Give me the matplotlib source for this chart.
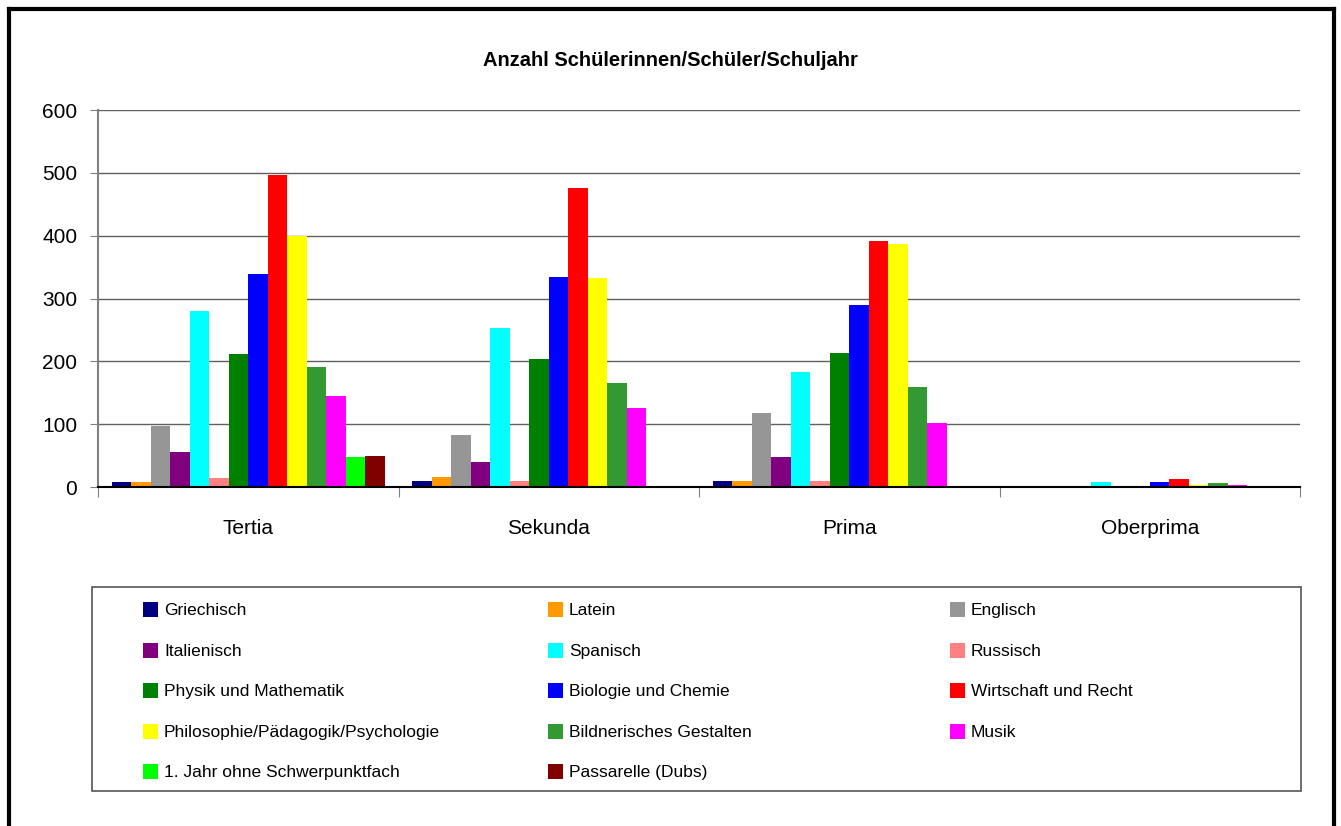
import numpy as np
import matplotlib.pyplot as plt
from matplotlib.patches import Rectangle
from matplotlib.lines import Line2D

plt.rcParams['font.family'] = ['Liberation Sans', 'DejaVu Sans']

categories = ['Tertia', 'Sekunda', 'Prima', 'Oberprima']

subjects = ['Griechisch', 'Latein', 'Englisch', 'Italienisch', 'Spanisch', 'Russisch',
            'Physik und Mathematik', 'Biologie und Chemie', 'Wirtschaft und Recht',
            'Philosophie/Pädagogik/Psychologie', 'Bildnerisches Gestalten', 'Musik',
            '1. Jahr ohne Schwerpunktfach', 'Passarelle (Dubs)']

# values per subject: Tertia, Sekunda, Prima, Oberprima
griechisch = [8, 10, 10, 0]
latein = [8, 16, 10, 0]
englisch = [97, 83, 118, 0]
italienisch = [56, 40, 48, 0]
spanisch = [280, 253, 183, 8]
russisch = [14, 10, 10, 0]
physik = [212, 204, 213, 0]
biologie = [339, 334, 290, 8]
wirtschaft = [497, 476, 392, 13]
philosophie = [400, 333, 387, 3]
bildnerisch = [191, 166, 159, 6]
musik = [145, 126, 102, 3]
erstes_jahr = [48, 0, 0, 0]
passarelle = [49, 0, 0, 0]

series = [griechisch, latein, englisch, italienisch, spanisch, russisch, physik,
          biologie, wirtschaft, philosophie, bildnerisch, musik, erstes_jahr, passarelle]

colors = ['#000080', '#FF9900', '#969696', '#800080', '#00FFFF', '#FF8080', '#008000',
          '#0000FF', '#FF0000', '#FFFF00', '#339933', '#FF00FF', '#00FF00', '#800000']

W, H = 1341, 826
fig = plt.figure(figsize=(W / 100, H / 100), dpi=100)

def fx(px):
    return px / W

def fy(py):
    return 1 - py / H

ax = fig.add_axes([fx(98), fy(487), fx(1300) - fx(98), fy(110) - fy(487)])

n = len(series)
w = 0.907 / n
x = np.arange(len(categories)) + 0.5
for j, vals in enumerate(series):
    ax.bar(x + (j - (n - 1) / 2) * w, vals, width=w, color=colors[j], label=subjects[j], zorder=3)

ax.set_xlim(0, 4)
ax.set_ylim(0, 600)
ax.set_yticks(range(0, 601, 100))
ax.yaxis.grid(True, color='#606060', lw=1, zorder=0)
ax.tick_params(axis='y', labelsize=15, length=6, color='#808080', pad=9)

ax.set_xticks([0, 1, 2, 3, 4])
ax.set_xticklabels([])
ax.set_xticks(x, minor=True)
ax.set_xticklabels(categories, minor=True)
ax.tick_params(axis='x', which='major', length=7, color='#808080', direction='out')
ax.tick_params(axis='x', which='minor', length=0, labelsize=15, pad=23)

for s in ['top', 'right']:
    ax.spines[s].set_visible(False)
ax.spines['left'].set_color('#808080')
ax.spines['left'].set_linewidth(1.5)
ax.spines['bottom'].set_color('black')
ax.spines['bottom'].set_linewidth(1.5)
ax.spines['bottom'].set_zorder(4)

fig.text(0.5, fy(60), 'Anzahl Schülerinnen/Schüler/Schuljahr', ha='center', va='center',
         fontsize=14.5, fontweight='bold')

# legend box
fig.add_artist(Rectangle((fx(92), fy(791)), fx(1301) - fx(92), fy(587) - fy(791),
                         transform=fig.transFigure, fill=False, edgecolor='#555555', lw=1.2))
col_x = [143, 548, 950]
row_y = [609, 650, 690, 731, 771]
for k, lab in enumerate(subjects):
    r, c = divmod(k, 3)
    fig.add_artist(Rectangle((fx(col_x[c]), fy(row_y[r] + 7.5)), fx(15), 15 / H,
                             transform=fig.transFigure, facecolor=colors[k], edgecolor='none'))
    fig.text(fx(col_x[c] + 21), fy(row_y[r]), lab, ha='left', va='center_baseline', fontsize=12.5)

# outer frame
for xs, ys in [([9, 9], [9, 830]), ([9, 1334], [9, 9]), ([1334, 1334], [9, 830])]:
    fig.add_artist(Line2D([fx(v) for v in xs], [fy(v) for v in ys],
                          transform=fig.transFigure, color='black', lw=3))

fig.savefig('out.png', dpi=100)
